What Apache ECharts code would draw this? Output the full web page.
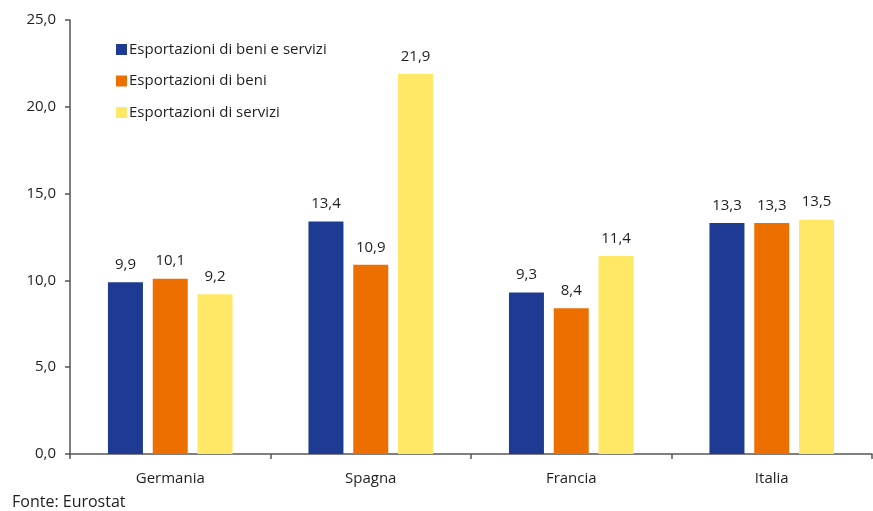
<!DOCTYPE html>
<html>
<head>
<meta charset="utf-8">
<script src="https://cdn.jsdelivr.net/npm/echarts@6/dist/echarts.min.js"></script>
<style>
html,body{margin:0;padding:0;background:#fff;}
#c{width:873px;height:511px;}
</style>
</head>
<body>
<div id="c"></div>
<script>
const categories = ['Germania', 'Spagna', 'Francia', 'Italia'];
const seriesNames = ['Esportazioni di beni e servizi', 'Esportazioni di beni', 'Esportazioni di servizi'];
const beniServizi = [9.9, 13.4, 9.3, 13.3];
const beni = [10.1, 10.9, 8.4, 13.3];
const servizi = [9.2, 21.9, 11.4, 13.5];
const colors = ['#1f3a93', '#ed6f00', '#ffe866'];
const yTicks = [0, 5, 10, 15, 20, 25];

const FONT = 'Open Sans';
const TXT = '#1e1e1e';
const fmt = v => v.toFixed(1).replace('.', ',');

const chart = echarts.init(document.getElementById('c'));
const mk = (name, data, color) => ({
  name: name,
  type: 'bar',
  data: data,
  barWidth: 35,
  barGap: '28%',
  itemStyle: { color: color },
  label: {
    show: true,
    position: 'top',
    distance: 10,
    fontFamily: FONT,
    fontSize: 15,
    color: TXT,
    formatter: p => fmt(p.value)
  }
});
chart.setOption({
  animation: false,
  textStyle: { fontFamily: FONT },
  grid: { left: 70, right: 1, top: 20, bottom: 57, containLabel: false },
  legend: {
    orient: 'vertical',
    left: 111,
    top: 37,
    itemGap: 16.5,
    itemWidth: 11,
    itemHeight: 11,
    icon: 'rect',
    textStyle: { fontFamily: FONT, fontSize: 15, color: TXT, padding: [0, 0, 0, -3] },
    data: seriesNames
  },
  xAxis: {
    type: 'category',
    data: categories,
    axisLine: { lineStyle: { color: '#555', width: 1.5 } },
    axisTick: { show: true, length: 5, lineStyle: { color: '#555', width: 1.5 } },
    axisLabel: { fontFamily: FONT, fontSize: 15, color: TXT, margin: 17 }
  },
  yAxis: {
    type: 'value',
    min: yTicks[0],
    max: yTicks[yTicks.length - 1],
    interval: 5,
    splitLine: { show: false },
    axisLine: { show: true, lineStyle: { color: '#555', width: 1.5 } },
    axisTick: { show: true, length: 5, lineStyle: { color: '#555', width: 1.5 } },
    axisLabel: { fontFamily: FONT, fontSize: 15, color: TXT, margin: 14, formatter: v => fmt(v) }
  },
  graphic: [{
    type: 'text',
    left: 12,
    top: 494,
    style: { text: 'Fonte: Eurostat', fontFamily: FONT, fontSize: 16, fill: TXT }
  }],
  series: [
    mk(seriesNames[0], beniServizi, colors[0]),
    mk(seriesNames[1], beni, colors[1]),
    mk(seriesNames[2], servizi, colors[2])
  ]
});
</script>
</body>
</html>
